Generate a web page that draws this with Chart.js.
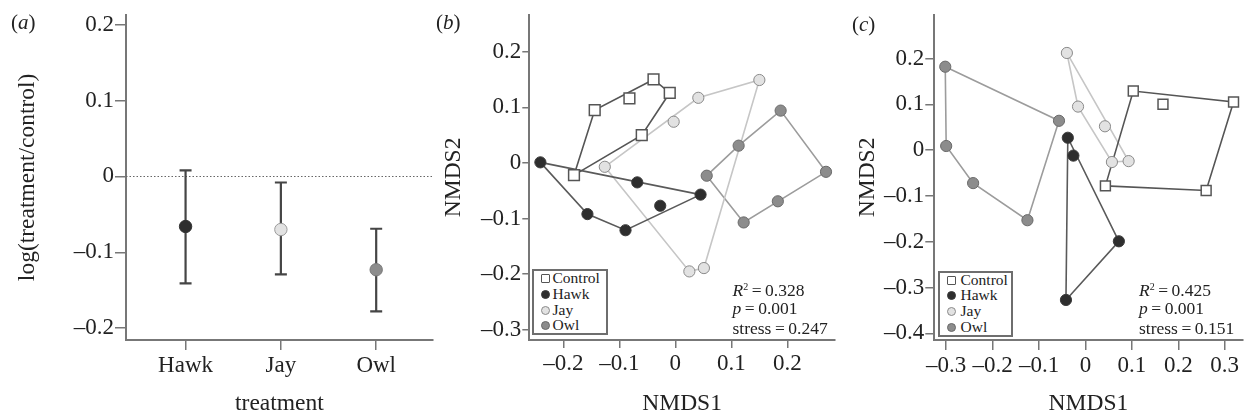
<!DOCTYPE html>
<html><head><meta charset="utf-8">
<script src="https://cdn.jsdelivr.net/npm/chart.js@4.4.1/dist/chart.umd.min.js"></script>
<style>
html,body{margin:0;padding:0;background:#fff;}
body{width:1251px;height:418px;position:relative;overflow:hidden;font-family:'Liberation Serif','Times New Roman',serif;color:#222;}
.pane{position:absolute;top:0;}
.pane canvas{display:block;}
.t{position:absolute;white-space:nowrap;}
.lg{position:absolute;border:2px solid #6e6e6e;box-sizing:border-box;background:#fff;}
.mk{position:absolute;box-sizing:border-box;}
</style></head><body>
<div class="pane" style="left:0"><canvas id="ca" width="440" height="418"></canvas></div>
<div class="pane" style="left:440px"><canvas id="cb" width="404" height="418"></canvas></div>
<div class="pane" style="left:845px"><canvas id="cc" width="406" height="418"></canvas></div>
<div id="overlay"></div>
<script>
// ---------- data ----------
const treatments = ['Hawk', 'Jay', 'Owl'];
const logRatioMean = [-0.066, -0.070, -0.123];
const logRatioLower = [-0.141, -0.129, -0.178];
const logRatioUpper = [0.008, -0.008, -0.069];
const aYTicks = [-0.2, -0.1, 0, 0.1, 0.2];

const legendNames = ['Control', 'Hawk', 'Jay', 'Owl'];

const bControlX = [-0.039, -0.010, -0.082, -0.144, -0.060, -0.181];
const bControlY = [0.150, 0.126, 0.116, 0.095, 0.050, -0.022];
const bHawkX = [-0.241, -0.068, 0.045, -0.027, -0.089, -0.157];
const bHawkY = [0.001, -0.035, -0.057, -0.077, -0.121, -0.092];
const bJayX = [0.150, 0.041, -0.003, -0.126, 0.025, 0.051];
const bJayY = [0.149, 0.117, 0.074, -0.007, -0.195, -0.189];
const bOwlX = [0.188, 0.113, 0.056, 0.122, 0.183, 0.269];
const bOwlY = [0.094, 0.031, -0.023, -0.107, -0.069, -0.016];
const bXTicks = [-0.2, -0.1, 0, 0.1, 0.2];
const bYTicks = [-0.3, -0.2, -0.1, 0, 0.1, 0.2];
const bStats = ['0.328', '0.001', '0.247'];

const cControlX = [0.103, 0.167, 0.319, 0.260, 0.043];
const cControlY = [0.129, 0.100, 0.105, -0.088, -0.078];
const cHawkX = [-0.038, -0.026, 0.072, -0.042];
const cHawkY = [0.027, -0.012, -0.199, -0.327];
const cJayX = [-0.040, -0.016, 0.042, 0.057, 0.093];
const cJayY = [0.212, 0.095, 0.052, -0.026, -0.024];
const cOwlX = [-0.302, -0.057, -0.125, -0.242, -0.300];
const cOwlY = [0.182, 0.064, -0.153, -0.072, 0.009];
const cXTicks = [-0.3, -0.2, -0.1, 0, 0.1, 0.2, 0.3];
const cYTicks = [-0.4, -0.3, -0.2, -0.1, 0, 0.1, 0.2];
const cStats = ['0.425', '0.001', '0.151'];

// ---------- styles ----------
const FONT = "'Liberation Serif','Times New Roman',serif";
Chart.defaults.font.family = FONT;
Chart.defaults.color = '#222';
const AXIS = '#777';
const groupStyle = {
  Control: {fill: '#ffffff', border: '#555555', line: '#555555', style: 'rect'},
  Hawk: {fill: '#2e2e2e', border: '#3a3a3a', line: '#5a5a5a', style: 'circle'},
  Jay: {fill: '#e2e2e2', border: '#8a8a8a', line: '#c6c6c6', style: 'circle'},
  Owl: {fill: '#8c8c8c', border: '#6a6a6a', line: '#9c9c9c', style: 'circle'}
};

function fmt(v) {
  if (Math.abs(v) < 1e-9) return '0';
  return (v < 0 ? '\u2013' : '') + Math.abs(v).toFixed(1);
}
function fixTicks(list) { return function(scale) { scale.ticks = list.map(v => ({value: v})); }; }

function axis(opts) {
  return {
    type: 'linear', min: opts.min, max: opts.max,
    afterBuildTicks: fixTicks(opts.ticks),
    afterFit: opts.fit,
    grid: {drawOnChartArea: false, drawTicks: true, tickLength: opts.tl, color: AXIS, lineWidth: 1.5},
    border: {display: true, color: AXIS, width: 2},
    ticks: {font: {size: 23}, color: '#222', padding: opts.pad, autoSkip: false, maxRotation: 0,
             callback: opts.cb || (v => fmt(v))},
    title: {display: true, text: opts.title, font: {size: 23.5}, color: '#222', padding: opts.tpad}
  };
}

// ---------- panel a ----------
const errPlugin = {
  id: 'err',
  beforeDatasetsDraw(chart) {
    const {ctx, scales: {x, y}, chartArea} = chart;
    ctx.save();
    ctx.strokeStyle = '#666'; ctx.lineWidth = 1; ctx.setLineDash([1.5, 2]);
    const y0 = Math.round(y.getPixelForValue(0)) + 0.5;
    ctx.beginPath(); ctx.moveTo(chartArea.left, y0); ctx.lineTo(chartArea.right, y0); ctx.stroke();
    ctx.setLineDash([]);
    ctx.strokeStyle = '#454545'; ctx.lineWidth = 2.2;
    treatments.forEach((t, i) => {
      const px = x.getPixelForValue(i + 1);
      const lo = y.getPixelForValue(logRatioLower[i]);
      const hi = y.getPixelForValue(logRatioUpper[i]);
      ctx.beginPath();
      ctx.moveTo(px, lo); ctx.lineTo(px, hi);
      ctx.moveTo(px - 6, lo); ctx.lineTo(px + 6, lo);
      ctx.moveTo(px - 6, hi); ctx.lineTo(px + 6, hi);
      ctx.stroke();
    });
    ctx.restore();
  }
};

new Chart(document.getElementById('ca'), {
  type: 'scatter',
  data: {datasets: [{
    data: treatments.map((t, i) => ({x: i + 1, y: logRatioMean[i]})),
    pointRadius: 6.2,
    pointBackgroundColor: treatments.map(t => groupStyle[t].fill),
    pointBorderColor: ['#333', '#9a9a9a', '#777'],
    pointBorderWidth: 1
  }]},
  options: {
    responsive: false, animation: false,
    layout: {padding: {top: 10, right: 5, left: 0, bottom: 0}},
    plugins: {legend: {display: false}, tooltip: {enabled: false}},
    scales: {
      x: axis({min: 0.375, max: 3.594, ticks: [1, 2, 3], tl: 10, pad: 2, title: 'treatment', tpad: {top: 0, bottom: 0},
               cb: v => treatments[Math.round(v) - 1], fit: s => { s.height = 78; }}),
      y: axis({min: -0.2156, max: 0.213, ticks: aYTicks, tl: 11, pad: 1, title: 'log(treatment/control)', tpad: {top: 14, bottom: 0},
               fit: s => { s.width = 126; }})
    }
  },
  plugins: [errPlugin]
});

// ---------- NMDS panels ----------
function hull(xs, ys) {
  const pts = xs.map((x, i) => ({x, y: ys[i]})).sort((a, b) => a.x - b.x || a.y - b.y);
  const cross = (o, a, b) => (a.x - o.x) * (b.y - o.y) - (a.y - o.y) * (b.x - o.x);
  const lower = [], upper = [];
  for (const p of pts) { while (lower.length >= 2 && cross(lower[lower.length - 2], lower[lower.length - 1], p) <= 0) lower.pop(); lower.push(p); }
  for (let i = pts.length - 1; i >= 0; i--) { const p = pts[i]; while (upper.length >= 2 && cross(upper[upper.length - 2], upper[upper.length - 1], p) <= 0) upper.pop(); upper.push(p); }
  upper.pop(); lower.pop();
  const h = lower.concat(upper);
  h.push(h[0]);
  return h;
}

function nmds(id, groups, cfg) {
  const datasets = [];
  groups.forEach(g => {
    const st = groupStyle[g.name];
    datasets.push({data: hull(g.x, g.y), showLine: true, pointRadius: 0, borderColor: st.line, borderWidth: 1.6, fill: false, order: 2});
  });
  groups.forEach(g => {
    const st = groupStyle[g.name];
    datasets.push({
      data: g.x.map((x, i) => ({x, y: g.y[i]})),
      pointStyle: st.style,
      pointRadius: st.style === 'rect' ? cfg.sq : cfg.r,
      pointBackgroundColor: st.fill, pointBorderColor: st.border,
      pointBorderWidth: st.style === 'rect' ? 1.5 : 1, order: 1
    });
  });
  new Chart(document.getElementById(id), {
    type: 'scatter',
    data: {datasets},
    options: {
      responsive: false, animation: false,
      layout: {padding: {top: 10, right: cfg.right, left: 0, bottom: 0}},
      plugins: {legend: {display: false}, tooltip: {enabled: false}},
      scales: {
        x: axis({min: cfg.xmin, max: cfg.xmax, ticks: cfg.xt, tl: cfg.xtl, pad: 2, title: 'NMDS1', tpad: {top: 0, bottom: 0},
                 fit: s => { s.height = 78; }}),
        y: axis({min: cfg.ymin, max: cfg.ymax, ticks: cfg.yt, tl: cfg.ytl, pad: 1, title: 'NMDS2', tpad: {top: cfg.ytp, bottom: 0},
                 fit: s => { s.width = cfg.yw; }})
      }
    }
  });
}

nmds('cb', [
  {name: 'Control', x: bControlX, y: bControlY},
  {name: 'Hawk', x: bHawkX, y: bHawkY},
  {name: 'Jay', x: bJayX, y: bJayY},
  {name: 'Owl', x: bOwlX, y: bOwlY}
], {xmin: -0.2608, xmax: 0.2849, ymin: -0.3183, ymax: 0.2662, xt: bXTicks, yt: bYTicks,
    xtl: 8, ytl: 7, ytp: 0, yw: 89.3, right: 5, r: 5.6, sq: 7.6});

nmds('cc', [
  {name: 'Control', x: cControlX, y: cControlY},
  {name: 'Hawk', x: cHawkX, y: cHawkY},
  {name: 'Jay', x: cJayX, y: cJayY},
  {name: 'Owl', x: cOwlX, y: cOwlY}
], {xmin: -0.3256, xmax: 0.3383, ymin: -0.4144, ymax: 0.2953, xt: cXTicks, yt: cYTicks,
    xtl: 10, ytl: 9, ytp: 9, yw: 89.3, right: 8, r: 5.6, sq: 7});

// ---------- overlay text: panel labels, legends, statistics ----------
const ov = document.getElementById('overlay');
function addText(html, left, cy, size, extra) {
  const d = document.createElement('div');
  d.className = 't';
  d.style.left = left + 'px';
  d.style.top = (cy - size * 0.6) + 'px';
  d.style.fontSize = size + 'px';
  d.style.lineHeight = (size * 1.2) + 'px';
  if (extra) Object.assign(d.style, extra);
  d.innerHTML = html;
  ov.appendChild(d);
  return d;
}
const panelLabels = [['a', 11, 23], ['b', 436, 23], ['c', 852, 25]];
panelLabels.forEach(([l, x, y]) => addText('(<i>' + l + '</i>)', x, y, 21));

function legend(box, mx, tx, rows) {
  const b = document.createElement('div');
  b.className = 'lg';
  Object.assign(b.style, {left: box[0] + 'px', top: box[1] + 'px', width: box[2] + 'px', height: box[3] + 'px'});
  ov.appendChild(b);
  legendNames.forEach((n, i) => {
    const st = groupStyle[n];
    const m = document.createElement('div');
    m.className = 'mk';
    const s = 9;
    Object.assign(m.style, {left: (mx - s / 2) + 'px', top: (rows[i] - s / 2) + 'px', width: s + 'px', height: s + 'px',
      background: st.fill, border: (st.style === 'rect' ? '1.5px' : '1px') + ' solid ' + st.border,
      borderRadius: st.style === 'rect' ? '1px' : '50%'});
    ov.appendChild(m);
    addText(n, tx, rows[i], 15.5);
  });
}
legend([531.7, 269, 76.5, 66], 545.5, 552.5, [278, 294.7, 310, 325.7]);
legend([937.7, 270.7, 75, 66], 951.7, 960.5, [280, 295.3, 311.7, 327.7]);

function stats(vals, left, rows) {
  const eq = '\u2009=\u2009';
  addText('<i>R</i><sup style="font-size:10px;vertical-align:6px;line-height:0">2</sup>' + eq + vals[0], left, rows[0], 17.5);
  addText('<i>p</i>' + eq + vals[1], left, rows[1], 17.5);
  addText('stress' + eq + vals[2], left, rows[2], 17.5);
}
stats(bStats, 732.5, [290, 308.5, 328]);
stats(cStats, 1139, [290, 308.5, 328]);
</script>
</body></html>
